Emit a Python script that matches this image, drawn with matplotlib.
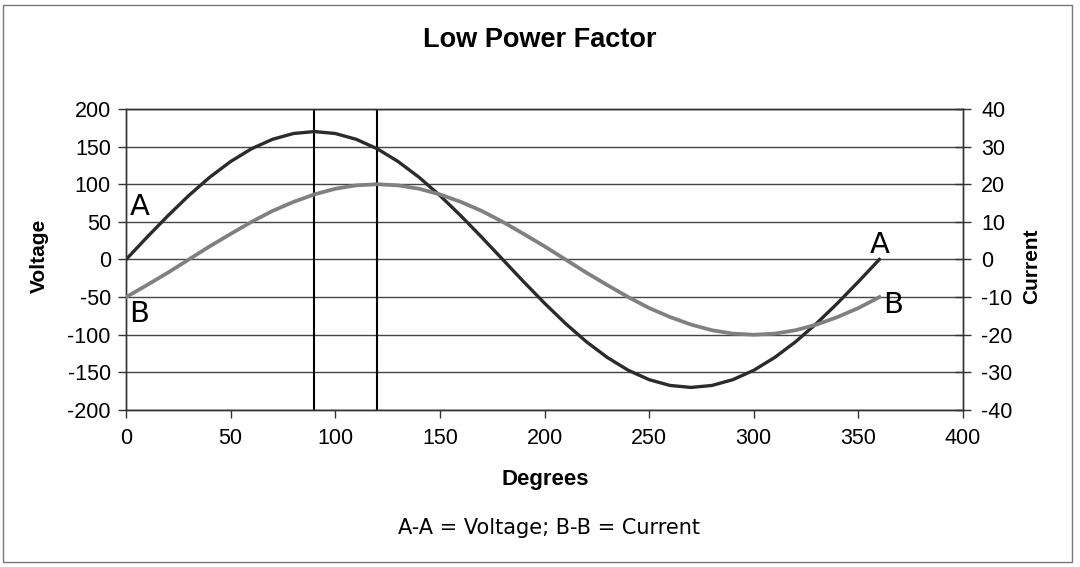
import matplotlib
matplotlib.use('Agg')
import matplotlib.pyplot as plt
from matplotlib.patches import Rectangle

# values, every 10 degrees
degrees = list(range(0, 361, 10))
voltage = [0, 29.5, 58.1, 85, 109.3, 130.2, 147.2, 159.7, 167.4, 170,
           167.4, 159.7, 147.2, 130.2, 109.3, 85, 58.1, 29.5, 0,
           -29.5, -58.1, -85, -109.3, -130.2, -147.2, -159.7, -167.4, -170,
           -167.4, -159.7, -147.2, -130.2, -109.3, -85, -58.1, -29.5, 0]
current = [-10, -6.8, -3.5, 0, 3.5, 6.8, 10, 12.9, 15.3, 17.3,
           18.8, 19.7, 20, 19.7, 18.8, 17.3, 15.3, 12.9, 10,
           6.8, 3.5, 0, -3.5, -6.8, -10, -12.9, -15.3, -17.3, -18.8,
           -19.7, -20, -19.7, -18.8, -17.3, -15.3, -12.9, -10]
marker_degrees = [90, 120]

volt_ticks = list(range(-200, 201, 50))
curr_ticks = list(range(-40, 41, 10))
deg_ticks = list(range(0, 401, 50))

plt.rcParams['font.family'] = ['Liberation Sans', 'DejaVu Sans']
plt.rcParams['axes.unicode_minus'] = False

fig = plt.figure(figsize=(10.8, 5.67), dpi=100)
ax = fig.add_axes([0.1167, 0.2769, 0.775, 0.5309])

for y in volt_ticks:
    ax.axhline(y, color='#444444', lw=1.0, zorder=1)
for d in marker_degrees:
    ax.axvline(d, color='black', lw=1.5, zorder=2)

ax.plot(degrees, voltage, color='#2b2b2b', lw=2.4, zorder=4)
ax.set_xlim(0, 400)
ax.set_ylim(-200, 200)
ax.set_xticks(deg_ticks)
ax.set_yticks(volt_ticks)
ax.tick_params(axis='both', direction='out', length=6, width=1,
               color='#333333', labelsize=15.5, pad=5)
ax.tick_params(axis='x', pad=7)
for s in ax.spines.values():
    s.set_color('#333333')
    s.set_linewidth(1)

ax2 = ax.twinx()
ax2.plot(degrees, current, color='#808080', lw=2.7, zorder=3)
ax2.set_ylim(-40, 40)
ax2.set_yticks(curr_ticks)
ax2.tick_params(axis='y', direction='inout', length=12, width=1,
                color='#333333', labelsize=15.5, pad=7)
for s in ax2.spines.values():
    s.set_color('#333333')
    s.set_linewidth(1)

# curve labels
lab = dict(fontsize=21, family='DejaVu Sans', ha='center', va='center')
ax.text(6.5, 70, 'A', **lab)
ax.text(6.3, -72, 'B', **lab)
ax.text(360.3, 19, 'A', **lab)
ax.text(366.5, -61, 'B', **lab)

fig.text(0.5, 0.929, 'Low Power Factor', fontsize=19.5, fontweight='bold',
         ha='center', va='center')
fig.text(0.036, 0.548, 'Voltage', fontsize=15, fontweight='bold',
         rotation=90, ha='center', va='center')
fig.text(0.955, 0.53, 'Current', fontsize=15, fontweight='bold',
         rotation=90, ha='center', va='center')
fig.text(0.505, 0.155, 'Degrees', fontsize=16, fontweight='bold',
         ha='center', va='center')
fig.text(0.508, 0.069, 'A-A = Voltage; B-B = Current', fontsize=15,
         family='DejaVu Sans', ha='center', va='center')

fig.patches.append(Rectangle((3 / 1080, 5 / 567), 1069 / 1080, 557 / 567,
                             transform=fig.transFigure, fill=False,
                             edgecolor='#777777', lw=1))

fig.savefig('out.png', dpi=100)
